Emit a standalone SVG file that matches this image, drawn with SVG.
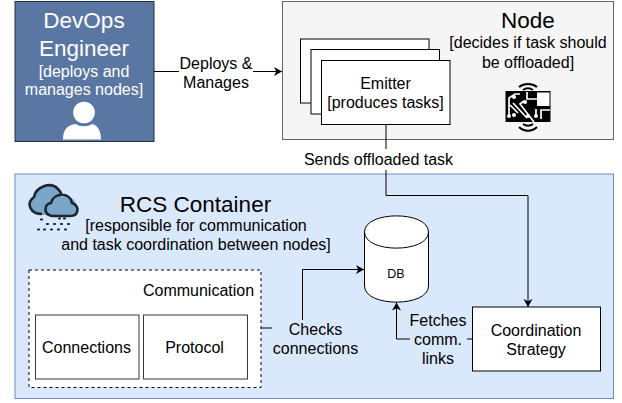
<svg xmlns="http://www.w3.org/2000/svg" width="622" height="403" viewBox="0 0 622 403">
<style>
text{font-family:"Liberation Sans",Arial,sans-serif;text-anchor:middle;fill:#000}
.box{fill:#fff;stroke:#000;stroke-width:1}
.s{font-size:16px}
.t{font-size:22.5px}
text.w{fill:#fff}
.conn{fill:none;stroke:#000;stroke-width:1}
</style>
<defs>
<marker id="arr" markerUnits="userSpaceOnUse" markerWidth="10" markerHeight="10" refX="8" refY="4.5" orient="auto"><path d="M0 0L8 4.5L0 9L2.2 4.5Z" fill="#000"/></marker>
</defs>
<g id="rcs-container"><rect x="15" y="174" width="598.5" height="224.5" fill="#dae8fc" stroke="#6c8ebf"/>
<text x="195.500" y="211.500" class="t">RCS Container</text>
<text x="196" y="231" class="s">[responsible for communication</text>
<text x="196" y="250" class="s">and task coordination between nodes]</text>
<g id="cloud-icon">
<path d="M45 215C32 216 25 204 34 197C36 187 50 181 58 189L62 197C70 194 78 202 77 209C77 213 74 216 70 216Z" fill="#7aa7c9"/>
<path d="M42 214C31 214 25 204 34 197C36 187 50 181 58 189C60 191 61 192 61 194M52 216C43 214 44 204 51 203C54 192 70 192 72 203C80 206 79 216 70 216Z" fill="none" stroke="#1c2630" stroke-width="2.600"/>
<path d="M59 218.500h1M64 218.500h1M41 219.500h1M47 224h1M54 224h1M61 224h1M68 224h1M38 229.500h1M44 229.500h1M51 229.500h1M58 229.500h1M65 229.500h1" stroke="#1c2630" stroke-width="2.200" stroke-linecap="round" fill="none"/>
</g></g>
<g id="node"><rect x="282.500" y="1.500" width="331" height="138" fill="#f5f5f5" stroke="#666"/>
<text x="528" y="27.500" class="t">Node</text>
<text x="528" y="48" class="s">[decides if task should</text>
<text x="528" y="68" class="s">be offloaded]</text>
<g id="chip-icon">
<rect x="505.500" y="91" width="45" height="31" fill="#000"/>
<rect x="537" y="92.500" width="12.500" height="13.500" fill="#fff"/>
<path d="M509 116V98L515 94H520M518 113L510 105M527 118L513 103M534 122L520 104L524 101M527 92V99H537M541 119V110H550M536 117V109" fill="none" stroke="#fff" stroke-width="1.700"/>
<g fill="#fff"><circle cx="514" cy="97" r="2"/><circle cx="514" cy="115" r="2"/><circle cx="528" cy="116" r="2"/><circle cx="525" cy="102" r="2"/><circle cx="509" cy="116" r="2"/><circle cx="536" cy="116" r="2"/></g>
<path d="M519 87C524 83 532 83 537 87M523 90C526 88 530 88 533 90M519 127C524 132 532 132 537 127M523 124C526 126 530 126 533 124" fill="none" stroke="#000" stroke-width="2"/>
</g></g>
<g id="devops-engineer"><rect x="15" y="1.500" width="139" height="140" fill="#5a77a3" stroke="#1f2f4a"/>
<text class="w t" x="84" y="28">DevOps</text>
<text class="w t" x="84" y="56">Engineer</text>
<text class="w s" x="84" y="76.500">[deploys and</text>
<text class="w s" x="84" y="95">manages nodes]</text>
<g id="user-icon"><circle cx="84" cy="112.500" r="10.800" fill="#fff"/>
<path d="M63 139.500C63 130 67 125 76 124C80 127 88 127 92 124C97 125 101 130 101 139.500Z" fill="#fff"/></g></g>
<g id="emitter-stack">
<rect class="box" x="300.500" y="39" width="128.500" height="64"/>
<rect class="box" x="311" y="49.500" width="128.500" height="64.500"/>
</g>
<g id="emitter"><rect class="box" x="321.500" y="60.500" width="128.500" height="64"/>
<text x="385.500" y="88.500" class="s">Emitter</text>
<text x="385.500" y="107.500" class="s">[produces tasks]</text></g>
<g id="communication"><rect x="29" y="270" width="232" height="117.500" fill="#fff" stroke="#000" stroke-dasharray="3 3"/>
<text x="198.500" y="296" class="s">Communication</text></g>
<g id="connections"><rect x="35.500" y="315" width="103.500" height="64" fill="#fff" stroke="#36393d"/><text x="86.500" y="352.500" class="s">Connections</text></g>
<g id="protocol"><rect x="143.500" y="315" width="104" height="64" fill="#fff" stroke="#36393d"/><text x="194.500" y="352.500" class="s">Protocol</text></g>
<g id="db"><path class="box" d="M364.500 232C364.500 210.500 428.500 210.500 428.500 232V286C428.500 307.500 364.500 307.500 364.500 286Z"/>
<path class="box" style="fill:none" d="M364.500 232C364.500 253.500 428.500 253.500 428.500 232"/>
<text x="396" y="277.500" font-size="12.500">DB</text></g>
<g id="coordination-strategy"><rect class="box" x="472.500" y="307" width="128" height="64"/>
<text x="536" y="335.500" class="s">Coordination</text>
<text x="536" y="355" class="s">Strategy</text></g>
<g id="connectors">
<path class="conn" d="M154 71.500H282" marker-end="url(#arr)"/>
<path class="conn" d="M386 124.500V195.500H528V307" marker-end="url(#arr)"/>
<path class="conn" d="M261 328H302.500V269.500H364" marker-end="url(#arr)"/>
<path class="conn" d="M472.500 339H396.500V302.500" marker-end="url(#arr)"/>
<rect x="179" y="54" width="74" height="38" fill="#fff"/>
<text x="216" y="68.500" class="s">Deploys &amp;</text>
<text x="216" y="87.500" class="s">Manages</text>
<rect x="302" y="149" width="152" height="21" fill="#fff"/>
<text x="378.500" y="165" class="s">Sends offloaded task</text>
<rect x="272" y="320" width="87" height="38" fill="#dae8fc"/>
<text x="315.500" y="335" class="s">Checks</text>
<text x="315.500" y="354" class="s">connections</text>
<rect x="410" y="312" width="57" height="56" fill="#dae8fc"/>
<text x="438" y="326" class="s">Fetches</text>
<text x="438" y="345" class="s">comm.</text>
<text x="438" y="364" class="s">links</text>
</g>
</svg>
